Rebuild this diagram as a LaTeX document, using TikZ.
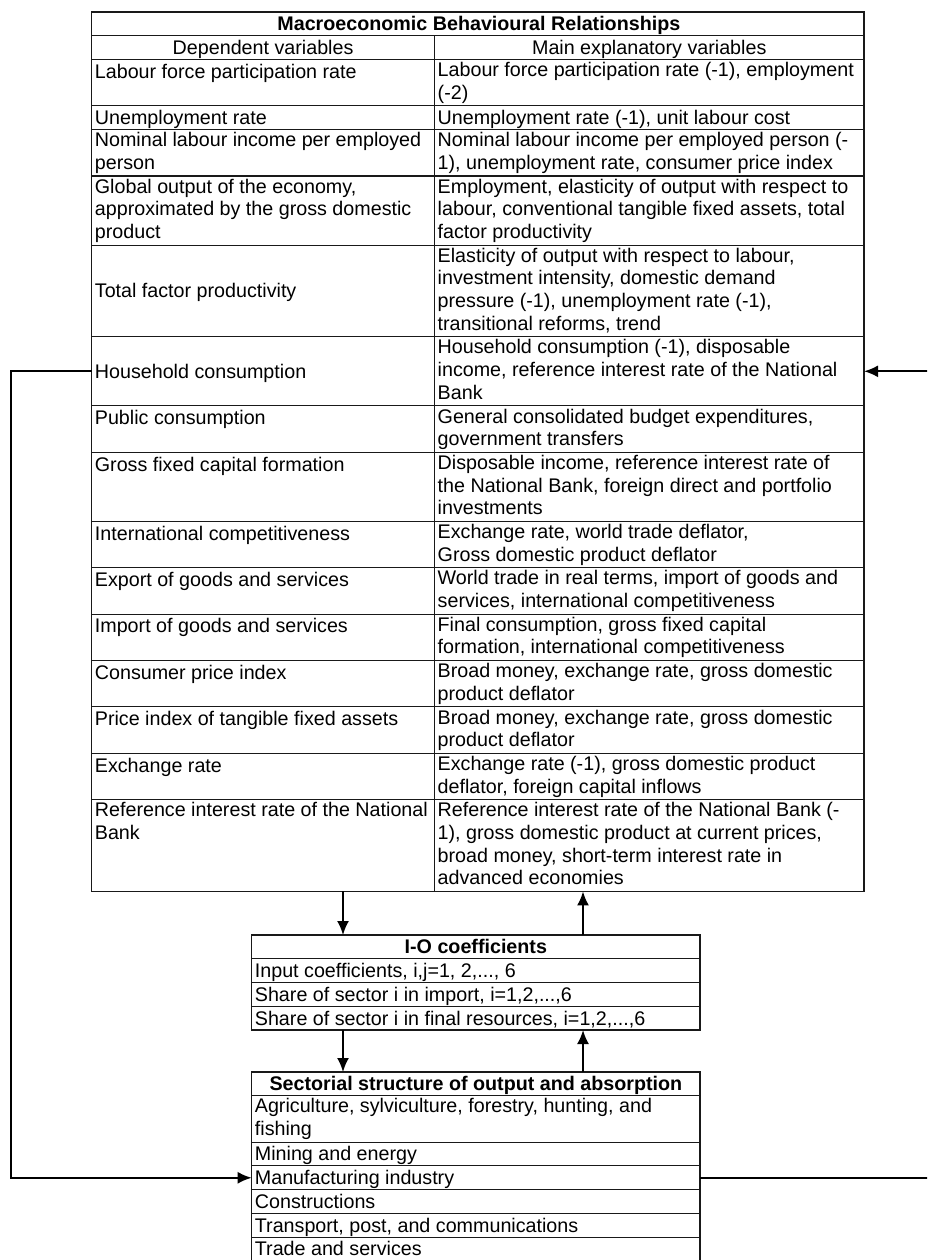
\documentclass[tikz,border=0pt]{standalone}
\usepackage{fontspec}
\setmainfont{Liberation Sans}
\usetikzlibrary{arrows.meta}
\newcommand\tabfont{\fontsize{19.7}{22.65}\selectfont}
\tikzset{
  cell/.style={draw=black!90, line width=1.1pt, rectangle, inner sep=0pt, outer sep=0pt, anchor=north west},
  txt/.style={inner sep=0pt, anchor=north west, align=left, font=\tabfont, execute at begin node=\strut},
  ctr/.style={txt, anchor=north, align=center},
  ttl/.style={ctr, font=\bfseries\tabfont},
  midtxt/.style={inner sep=0pt, anchor=base west, font=\tabfont},
  arr/.style={line width=2pt, -{Latex[length=14pt,width=12pt]}},
}
% name, top, height, left text, right text
\newcommand\mrow[5]{%
  \node[cell,minimum width=342.8pt,minimum height=#3pt] (#1L) at (91.7,#2) {};
  \node[cell,minimum width=429.5pt,minimum height=#3pt] (#1R) at (434.5,#2) {};
  \node[txt] (#1Lt) at (94.7,#2+2.7) {#4};
  \node[txt] (#1Rt) at (437.5,#2+2.7) {#5};}
\newcommand\brow[4]{% name, top, height, text (lower boxes)
  \node[cell,minimum width=448.3pt,minimum height=#3pt] (#1) at (251.7,#2) {};
  \node[txt] (#1t) at (254.7,#2+2.7) {#4};}
\begin{document}
\begin{tikzpicture}[x=1pt,y=-1pt]
\useasboundingbox (0,0) rectangle (927,1260);
\clip (0,0) rectangle (927,1260);
\fill[white] (0,0) rectangle (927,1260);

% ---------- main table ----------
\node[cell,minimum width=772.3pt,minimum height=879.4pt] (macro) at (91.7,12) {};
\node[cell,minimum width=772.3pt,minimum height=23.75pt] (title) at (91.7,12) {};
\node[ttl] (titlet) at (478.85,14.7) {Macroeconomic Behavioural Relationships};
\node[cell,minimum width=342.8pt,minimum height=23.75pt] (hdL) at (91.7,35.75) {};
\node[cell,minimum width=429.5pt,minimum height=23.75pt] (hdR) at (434.5,35.75) {};
\node[ctr] (hdLt) at (263.1,38.45) {Dependent variables};
\node[ctr] (hdRt) at (649.25,38.45) {Main explanatory variables};

\mrow{lab}{59.5}{46.4}{Labour force participation rate}{Labour force participation rate (-1), employment\\(-2)}
\mrow{une}{105.9}{23.75}{Unemployment rate}{Unemployment rate (-1), unit labour cost}
\mrow{nom}{129.65}{46.4}{Nominal labour income per employed\\person}{Nominal labour income per employed person (-\\1), unemployment rate, consumer price index}
\mrow{glo}{176.05}{69.05}{Global output of the economy,\\approximated by the gross domestic\\product}{Employment, elasticity of output with respect to\\labour, conventional tangible fixed assets, total\\factor productivity}
\mrow{tfp}{245.1}{91.7}{}{Elasticity of output with respect to labour,\\investment intensity, domestic demand\\pressure (-1), unemployment rate (-1),\\transitional reforms, trend}
\node[midtxt] (tfpc) at (94.7,297.85) {Total factor productivity};
\mrow{hh}{336.8}{69.05}{}{Household consumption (-1), disposable\\income, reference interest rate of the National\\Bank}
\node[midtxt] (hhc) at (94.7,378.2) {Household consumption};
\mrow{pub}{405.85}{46.4}{Public consumption}{General consolidated budget expenditures,\\government transfers}
\mrow{gfc}{452.25}{69.05}{Gross fixed capital formation}{Disposable income, reference interest rate of\\the National Bank, foreign direct and portfolio\\investments}
\mrow{int}{521.3}{46.4}{International competitiveness}{Exchange rate, world trade deflator,\\Gross domestic product deflator}
\mrow{exp}{567.7}{46.4}{Export of goods and services}{World trade in real terms, import of goods and\\services, international competitiveness}
\mrow{imp}{614.1}{46.4}{Import of goods and services}{Final consumption, gross fixed capital\\formation, international competitiveness}
\mrow{cpi}{660.5}{46.4}{Consumer price index}{Broad money, exchange rate, gross domestic\\product deflator}
\mrow{pit}{706.9}{46.4}{Price index of tangible fixed assets}{Broad money, exchange rate, gross domestic\\product deflator}
\mrow{exr}{753.3}{46.4}{Exchange rate}{Exchange rate (-1), gross domestic product\\deflator, foreign capital inflows}
\mrow{ref}{799.7}{91.7}{Reference interest rate of the National\\Bank}{Reference interest rate of the National Bank (-\\1), gross domestic product at current prices,\\broad money, short-term interest rate in\\advanced economies}

% ---------- I-O coefficients ----------
\node[cell,minimum width=448.3pt,minimum height=95pt] (io) at (251.7,935) {};
\node[cell,minimum width=448.3pt,minimum height=23.75pt] (iohd) at (251.7,935) {};
\node[ttl] (iohdt) at (475.85,937.7) {I-O coefficients};
\brow{io1}{958.75}{23.75}{Input coefficients, i,j=1, 2,..., 6}
\brow{io2}{982.5}{23.75}{Share of sector i in import, i=1,2,...,6}
\brow{io3}{1006.25}{23.75}{Share of sector i in final resources, i=1,2,...,6}

% ---------- Sectorial structure ----------
\node[cell,minimum width=448.3pt,minimum height=190pt] (sect) at (251.7,1072) {};
\node[cell,minimum width=448.3pt,minimum height=23.75pt] (sehd) at (251.7,1072) {};
\node[ttl] (sehdt) at (475.85,1074.7) {Sectorial structure of output and absorption};
\brow{agr}{1095.75}{46.4}{Agriculture, sylviculture, forestry, hunting, and\\fishing}
\brow{min}{1142.15}{23.75}{Mining and energy}
\brow{manuf}{1165.9}{23.75}{Manufacturing industry}
\brow{con}{1189.65}{23.75}{Constructions}
\brow{tra}{1213.4}{23.75}{Transport, post, and communications}
\brow{trd}{1237.15}{25}{Trade and services}

% ---------- connectors ----------
\coordinate (dn) at (343,0);
\coordinate (up) at (583,0);
\coordinate (lx) at (11,0);
\coordinate (rx) at (960,0);
\draw[arr] (dn |- macro.south) -- (dn |- io.north);
\draw[arr] (up |- io.north) -- (up |- macro.south);
\draw[arr] (dn |- io.south) -- (dn |- sect.north);
\draw[arr] (up |- sect.north) -- (up |- io.south);
\draw[arr] (hhL.west) -- (lx |- hhL.west) |- (manuf.west);
\draw[arr] (manuf.east) -- (rx |- manuf.east) |- (hhR.east);
\end{tikzpicture}
\end{document}
